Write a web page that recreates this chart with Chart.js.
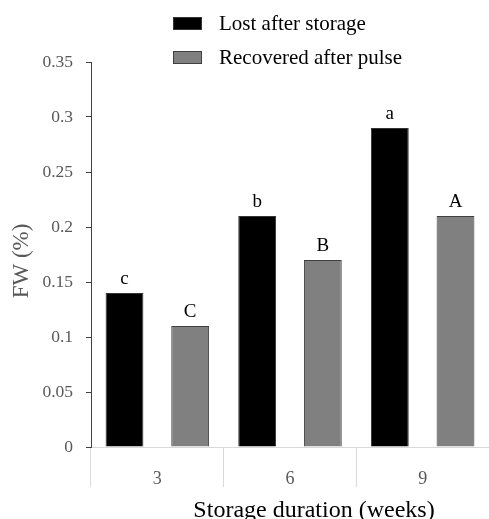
<!DOCTYPE html>
<html>
<head>
<meta charset="utf-8">
<script src="https://cdn.jsdelivr.net/npm/chart.js@4.4.1/dist/chart.umd.min.js"></script>
<style>
    html, body { margin: 0; padding: 0; background: #fff; }
</style>
</head>
<body>
<canvas id="fw-chart" width="489" height="519"></canvas>
<script>
const weeks = ['3', '6', '9'];
const lostAfterStorage = [0.14, 0.21, 0.29];
const recoveredAfterPulse = [0.11, 0.17, 0.21];
const lostLetters = ['c', 'b', 'a'];
const recoveredLetters = ['C', 'B', 'A'];
const seriesNames = ['Lost after storage', 'Recovered after pulse'];
const xTitle = 'Storage duration (weeks)';
const yTitle = 'FW (%)';

const SERIF = "'Liberation Serif', 'Times New Roman', serif";

// letters of significance above each bar
const letterPlugin = {
    id: 'letters',
    afterDatasetsDraw(chart) {
        const ctx = chart.ctx;
        ctx.save();
        ctx.font = '19px ' + SERIF;
        ctx.fillStyle = '#000';
        ctx.textAlign = 'center';
        ctx.textBaseline = 'bottom';
        chart.data.datasets.forEach((ds, i) => {
            chart.getDatasetMeta(i).data.forEach((bar, j) => {
                ctx.fillText(ds.letters[j], bar.x, bar.y - 4);
            });
        });
        ctx.restore();
    }
};

// stacked legend at top + axis titles (placed like the original, a bit off-centre)
const legendPlugin = {
    id: 'stackedLegend',
    afterDraw(chart) {
        const ctx = chart.ctx;
        ctx.save();
        ctx.font = '21px ' + SERIF;
        ctx.textBaseline = 'middle';
        chart.data.datasets.forEach((ds, i) => {
            const y = 23 + i * 34;
            ctx.fillStyle = ds.backgroundColor;
            ctx.fillRect(173, y - 6, 29, 13);
            ctx.strokeStyle = ds.borderColor;
            ctx.lineWidth = 1;
            ctx.strokeRect(173.5, y - 5.5, 28, 12);
            ctx.fillStyle = '#000';
            ctx.fillText(ds.label, 219, y + 1);
        });

        // x title
        ctx.font = '24px ' + SERIF;
        ctx.textAlign = 'center';
        ctx.textBaseline = 'alphabetic';
        ctx.fillStyle = '#000';
        ctx.fillText(xTitle, 314, 517);

        // y title
        ctx.translate(28, 261);
        ctx.rotate(-Math.PI / 2);
        ctx.font = '23px ' + SERIF;
        ctx.fillStyle = '#595959';
        ctx.fillText(yTitle, 0, 0);
        ctx.restore();
    }
};

const ctx = document.getElementById('fw-chart').getContext('2d');

new Chart(ctx, {
    type: 'bar',
    data: {
        labels: weeks,
        datasets: [{
            label: seriesNames[0],
            data: lostAfterStorage,
            letters: lostLetters,
            backgroundColor: '#000000',
            borderColor: '#333333',
            borderWidth: 1,
            categoryPercentage: 0.99,
            barPercentage: 0.576
        }, {
            label: seriesNames[1],
            data: recoveredAfterPulse,
            letters: recoveredLetters,
            backgroundColor: '#808080',
            borderColor: '#404040',
            borderWidth: 1,
            categoryPercentage: 0.99,
            barPercentage: 0.576
        }]
    },
    options: {
        responsive: false,
        animation: false,
        layout: {
            padding: { top: 62, right: 0, left: 0, bottom: 0 }
        },
        plugins: {
            legend: { display: false },
            tooltip: { enabled: false }
        },
        scales: {
            x: {
                offset: true,
                afterFit: (scale) => { scale.height = 72; },
                grid: {
                    offset: true,
                    drawOnChartArea: false,
                    tickLength: 40,
                    color: '#d9d9d9'
                },
                border: { color: '#d9d9d9' },
                ticks: {
                    padding: -19,
                    color: '#595959',
                    font: { family: SERIF, size: 18 }
                }
            },
            y: {
                min: 0,
                max: 0.35,
                afterFit: (scale) => { scale.width = 91; },
                grid: {
                    drawOnChartArea: false,
                    tickLength: 5,
                    color: '#404040'
                },
                border: { color: '#404040' },
                ticks: {
                    stepSize: 0.05,
                    padding: 13,
                    color: '#595959',
                    font: { family: SERIF, size: 17.5 },
                    callback: (v) => String(Number(v.toFixed(2)))
                }
            }
        }
    },
    plugins: [letterPlugin, legendPlugin]
});
</script>
</body>
</html>
